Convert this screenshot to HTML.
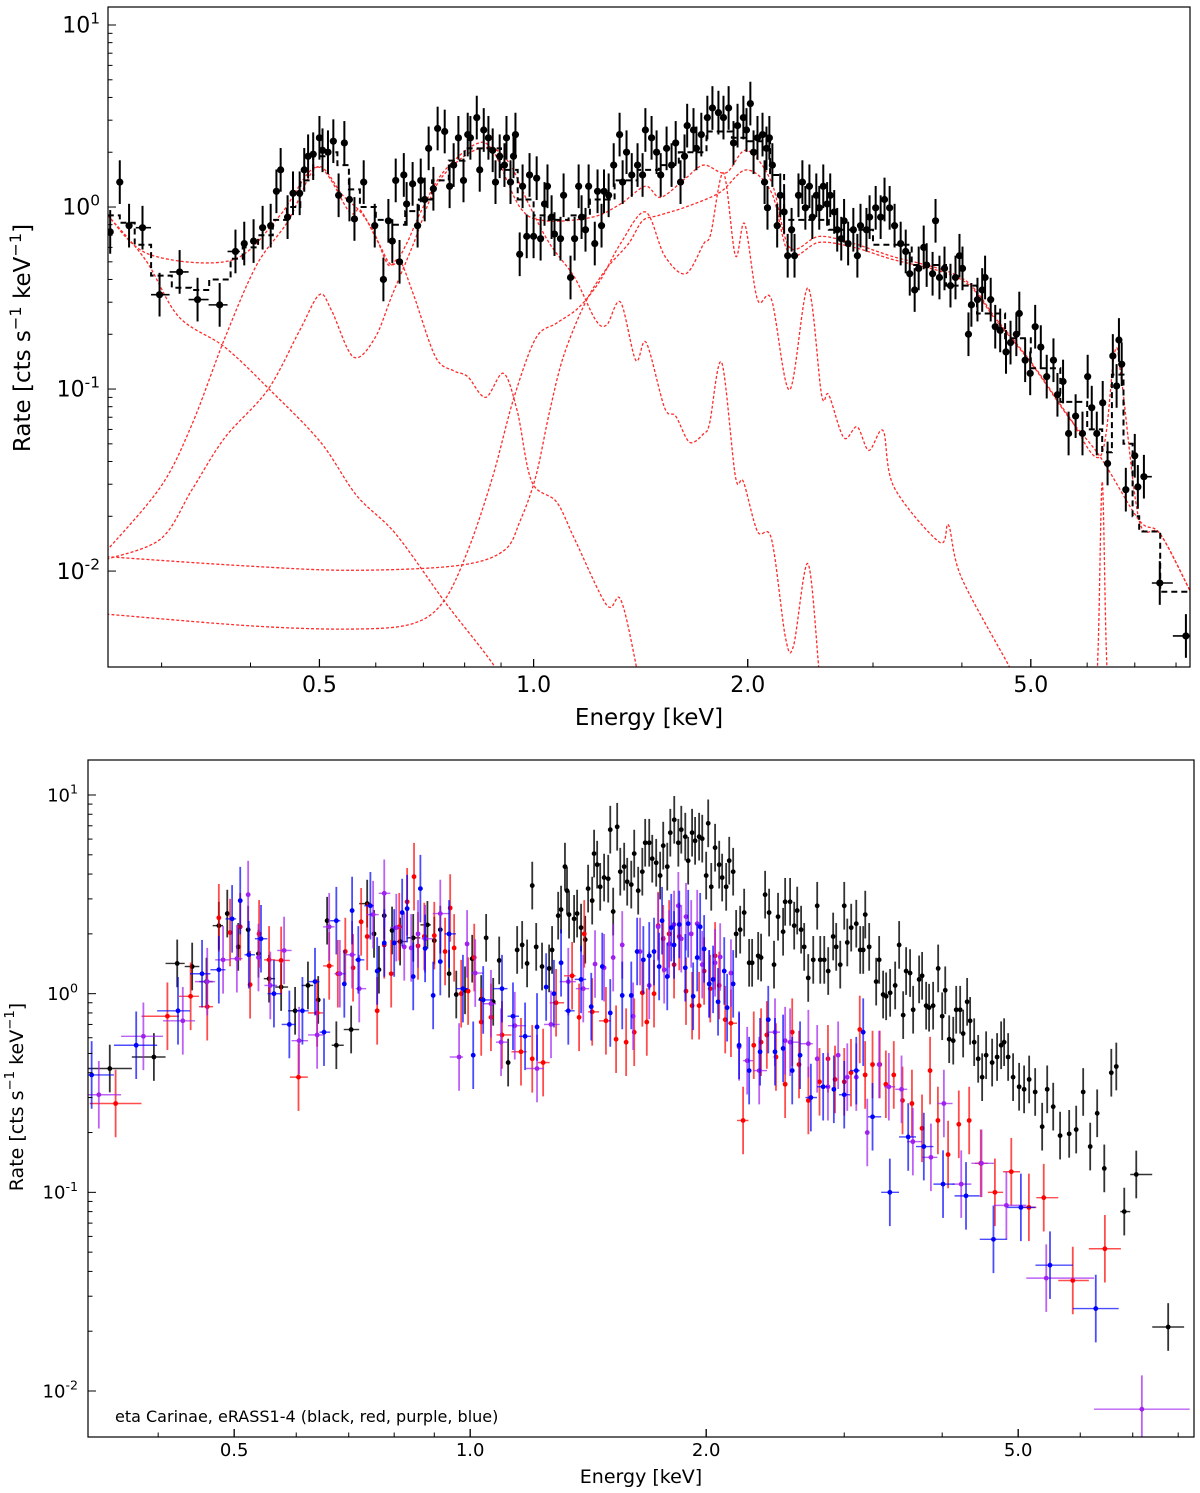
<!DOCTYPE html>
<html><head><meta charset="utf-8"><title>eta Carinae spectra</title>
<style>
html,body{margin:0;padding:0;background:#fff;}
svg{display:block;font-family:"DejaVu Sans","Liberation Sans",sans-serif;}
</style></head>
<body>
<svg id="fig" width="1200" height="1493" viewBox="0 0 1200 1493" xmlns="http://www.w3.org/2000/svg">
<defs>
<clipPath id="clipTop"><rect x="108" y="7" width="1082" height="660"/></clipPath>
<clipPath id="clipBot"><rect x="88" y="760" width="1106" height="677"/></clipPath>
</defs>
<g id="top"></g>
<g id="bot"></g>
</svg>
<script>
// ---------------- TOP PANEL DATA ----------------
const topE = [0.254,0.262,0.270,0.282,0.298,0.318,0.337,0.362,0.381,0.392,0.404,0.416,0.427,0.435,0.441,0.451,0.459,0.469,0.476,0.482,0.49,0.50,0.505,0.514,0.523,0.532,0.542,0.551,0.560,0.577,0.598,0.615,0.625,0.633,0.640,0.648,0.657,0.663,0.676,0.687,0.694,0.703,0.712,0.723,0.733,0.750,0.762,0.772,0.784,0.797,0.808,0.815,0.832,0.840,0.851,0.864,0.876,0.884,0.896,0.910,0.916,0.928,0.937,0.943,0.956,0.965,0.978,0.987,1.000,1.010,1.023,1.036,1.046,1.060,1.070,1.091,1.102,1.127,1.142,1.157,1.168,1.183,1.195,1.219,1.230,1.246,1.256,1.275,1.296,1.321,1.334,1.351,1.374,1.400,1.423,1.436,1.465,1.489,1.509,1.538,1.563,1.584,1.609,1.630,1.644,1.678,1.694,1.721,1.755,1.784,1.819,1.849,1.880,1.910,1.935,1.972,1.992,2.017,2.038,2.064,2.098,2.112,2.125,2.132,2.145,2.166,2.200,2.222,2.250,2.276,2.305,2.327,2.357,2.387,2.410,2.442,2.465,2.497,2.521,2.554,2.586,2.612,2.646,2.672,2.707,2.732,2.768,2.815,2.852,2.881,2.937,2.967,3.026,3.075,3.114,3.166,3.217,3.281,3.335,3.379,3.433,3.478,3.535,3.569,3.638,3.673,3.720,3.781,3.855,3.918,3.969,4.008,4.086,4.125,4.207,4.272,4.312,4.391,4.456,4.528,4.614,4.682,4.771,4.817,4.909,4.990,5.071,5.164,5.264,5.38,5.45,5.55,5.65,5.78,5.91,6.01,6.09,6.19,6.31,6.41,6.52,6.60,6.65,6.71,6.80,7.00,7.07,7.21,7.59,8.26];
const topRate = [0.73,1.37,0.79,0.77,0.33,0.44,0.31,0.29,0.57,0.63,0.65,0.77,0.79,1.22,1.6,0.88,1.19,1.19,1.6,1.9,1.95,2.4,2.05,2.0,2.3,1.16,2.25,1.1,0.86,1.37,0.79,0.40,0.84,0.65,1.4,0.50,1.5,1.04,1.34,0.79,1.4,1.1,2.1,1.26,2.7,2.6,1.3,1.7,2.4,1.4,2.5,2.4,3.1,1.6,2.65,2.4,2.05,1.37,1.9,1.7,2.4,1.37,1.9,2.5,0.55,1.3,0.69,1.5,0.69,1.44,0.67,1.04,1.3,0.88,0.71,0.67,1.16,0.41,0.67,1.3,0.88,0.75,1.3,0.63,1.22,0.79,1.22,1.16,1.7,2.5,1.37,2.0,1.5,1.7,1.5,2.65,2.4,2.0,1.5,2.1,1.7,2.25,1.37,1.9,2.8,2.65,2.1,2.5,3.1,3.5,3.3,3.1,3.5,2.25,2.8,3.1,2.65,3.7,2.0,2.4,2.5,1.37,2.1,0.99,2.4,1.7,0.79,1.16,0.94,0.54,0.75,0.54,1.16,1.37,0.99,1.3,0.88,1.16,0.99,1.3,1.04,1.16,0.94,0.75,0.67,0.84,0.63,0.75,0.54,0.79,0.75,0.88,0.99,0.88,1.1,0.99,0.79,0.63,0.57,0.43,0.35,0.46,0.6,0.48,0.43,0.84,0.41,0.46,0.37,0.41,0.54,0.46,0.2,0.29,0.31,0.35,0.41,0.31,0.22,0.21,0.16,0.18,0.2,0.26,0.144,0.122,0.22,0.17,0.117,0.144,0.093,0.11,0.057,0.071,0.057,0.117,0.079,0.057,0.084,0.039,0.152,0.104,0.186,0.137,0.028,0.043,0.029,0.033,0.0086,0.0044];
// fitted total model (black dashed step): bin edges and rates
const modelEdges = [0.252,0.262,0.275,0.29,0.31,0.33,0.35,0.375,0.39,0.41,0.43,0.45,0.47,0.49,0.51,0.53,0.55,0.57,0.60,0.63,0.66,0.69,0.72,0.76,0.80,0.85,0.90,0.95,1.0,1.05,1.12,1.2,1.3,1.4,1.5,1.6,1.75,1.9,2.0,2.15,2.25,2.4,2.6,3.0,3.4,3.8,4.2,4.6,5.0,5.5,6.0,6.3,6.5,6.75,6.95,7.1,7.6,8.37];
const modelRate = [0.9,0.82,0.62,0.42,0.36,0.35,0.40,0.52,0.6,0.7,0.85,1.0,1.4,1.9,2.0,1.7,1.25,1.0,0.85,0.8,0.95,1.1,1.4,1.8,2.1,2.1,1.6,1.1,0.9,0.85,0.9,1.1,1.4,1.6,1.7,2.0,2.6,2.4,2.3,1.5,0.85,0.85,0.75,0.62,0.48,0.37,0.26,0.19,0.13,0.085,0.06,0.045,0.12,0.05,0.02,0.0165,0.0077];
// model components (red dashed)
const compA_E = [0.252,0.285,0.317,0.368,0.427,0.502,0.564,0.64,0.752,0.876,0.95];
const compA_R = [0.90,0.51,0.25,0.17,0.098,0.051,0.026,0.016,0.0067,0.0031,0.0018];
const compB_E = [0.251,0.299,0.331,0.368,0.408,0.452,0.496,0.539,0.571,0.598,0.625,0.648,0.678,0.728,0.772,0.808,0.856,0.907,0.949,0.994,1.077,1.142,1.267,1.325,1.392,1.45];
const compB_R = [0.0129,0.029,0.064,0.19,0.48,0.84,1.66,1.16,0.94,0.71,0.48,0.51,0.33,0.15,0.126,0.117,0.09,0.122,0.075,0.031,0.024,0.015,0.0065,0.007,0.0031,0.0012];
const compC_E = [0.251,0.299,0.331,0.368,0.423,0.469,0.50,0.520,0.558,0.598,0.633,0.678,0.719,0.752,0.815,0.876,0.928,0.984,1.053,1.142,1.222,1.267,1.325,1.392,1.44,1.528,1.584,1.657,1.735,1.768,1.838,1.922,1.972,2.064,2.16,2.26,2.32,2.43,2.52,2.56];
const compC_R = [0.0116,0.015,0.028,0.054,0.099,0.21,0.33,0.27,0.15,0.19,0.33,0.63,1.16,1.54,2.0,2.1,1.7,1.04,0.63,0.41,0.24,0.225,0.30,0.144,0.18,0.079,0.071,0.051,0.057,0.065,0.14,0.033,0.031,0.0165,0.015,0.0043,0.0039,0.011,0.0028,0.0015];
const compD_E = [0.251,0.40,0.55,0.671,0.745,0.808,0.876,0.937,1.007,1.077,1.157,1.238,1.325,1.436,1.528,1.636,1.735,1.774,1.849,1.922,1.98,2.064,2.16,2.29,2.43,2.54,2.6,2.73,2.85,2.96,3.1,3.21,3.72,3.83,3.99,4.64,4.8];
const compD_R = [0.0058,0.0050,0.0048,0.0051,0.0067,0.0129,0.033,0.088,0.19,0.23,0.28,0.39,0.63,0.94,0.54,0.43,0.63,0.71,1.54,0.54,0.81,0.31,0.31,0.099,0.36,0.093,0.093,0.054,0.062,0.046,0.059,0.029,0.0144,0.0179,0.0093,0.0031,0.0024];
const compE_E = [0.251,0.39,0.551,0.779,0.907,0.958,1.007,1.053,1.102,1.183,1.267,1.36,1.423,1.5,1.636,1.826,1.992,2.16,2.29,2.52,2.82,3.17,3.99,4.48,5.03,5.65,6.27,7.1,7.6,8.37];
const compE_R = [0.012,0.0107,0.0101,0.0107,0.0129,0.019,0.033,0.075,0.152,0.30,0.46,0.63,0.84,0.9,1.0,1.2,1.6,1.2,0.55,0.64,0.6,0.52,0.40,0.235,0.135,0.07,0.042,0.019,0.016,0.0078];
const compT_E = [0.252,0.288,0.376,0.438,0.496,0.551,0.571,0.606,0.633,0.663,0.694,0.745,0.826,0.876,0.958,1.04,1.21,1.325,1.436,1.509,1.636,1.735,1.864,1.992,2.16,2.29,2.52,2.82,3.17,3.99,4.48,5.03,5.65,6.27,6.56,6.71,7.1,7.6,8.37];
const compT_R = [0.9,0.55,0.51,0.88,1.66,0.94,0.96,0.63,0.48,0.63,0.94,1.54,2.2,2.05,0.99,0.84,0.88,1.04,1.3,1.13,1.44,1.7,1.54,2.05,1.37,0.6,0.69,0.63,0.54,0.41,0.24,0.137,0.071,0.043,0.16,0.11,0.019,0.016,0.0078];
const compFe_E = [6.12,6.22,6.30,6.38,6.48];
const compFe_R = [0.0008,0.004,0.031,0.004,0.0008];
const topXTicks = [0.5,1.0,2.0,5.0];
const topXTickLabels = ["0.5","1.0","2.0","5.0"];
const topYDecades = [-2,-1,0,1];

// ---------------- BOTTOM PANEL DATA ----------------
const blackE = [0.347,0.395,0.423,0.442,0.461,0.478,0.49,0.506,0.521,0.537,0.554,0.574,0.598,0.621,0.64,0.657,0.675,0.705,0.739,0.754,0.765,0.777,0.795,0.814,0.846,0.882,0.90,0.916,0.94,0.96,0.985,1.006,1.033,1.048,1.07,1.089,1.118,1.148,1.165,1.182,1.2,1.214,1.235,1.261,1.272,1.295,1.306,1.321,1.329,1.337,1.357,1.369,1.385,1.402,1.414,1.431,1.439,1.452,1.465,1.482,1.50,1.509,1.522,1.54,1.554,1.572,1.586,1.605,1.619,1.638,1.658,1.672,1.692,1.707,1.727,1.747,1.763,1.784,1.80,1.821,1.843,1.859,1.881,1.897,1.919,1.936,1.959,1.977,2.00,2.012,2.03,2.053,2.078,2.096,2.121,2.14,2.165,2.184,2.21,2.236,2.269,2.289,2.33,2.35,2.378,2.406,2.441,2.47,2.507,2.522,2.559,2.59,2.613,2.643,2.667,2.699,2.739,2.771,2.796,2.829,2.862,2.904,2.93,2.965,3.0,3.027,3.062,3.108,3.144,3.172,3.191,3.228,3.295,3.324,3.363,3.393,3.433,3.484,3.525,3.567,3.598,3.64,3.673,3.738,3.771,3.816,3.849,3.895,3.953,4.0,4.036,4.083,4.132,4.168,4.217,4.254,4.304,4.342,4.394,4.446,4.498,4.551,4.632,4.70,4.756,4.798,4.855,4.926,5.014,5.088,5.164,5.256,5.365,5.445,5.542,5.655,5.808,5.929,6.052,6.178,6.306,6.439,6.573,6.67,6.828,7.073,7.768];
const blackRate = [0.42,0.48,1.42,1.37,1.15,2.2,2.53,1.72,2.10,1.59,1.19,1.08,0.82,1.10,0.93,2.33,0.55,0.66,2.84,2.0,1.32,2.47,2.08,1.83,1.91,2.22,1.85,2.10,1.26,0.99,1.04,1.50,0.94,1.91,0.91,1.47,0.45,1.66,1.76,1.42,3.5,1.72,1.37,1.34,1.66,2.47,2.65,4.36,3.30,2.50,2.38,2.53,2.15,1.87,3.38,2.94,5.07,4.46,3.45,3.84,3.79,6.69,2.59,6.92,4.11,4.36,3.66,3.54,5.07,3.30,4.11,5.75,5.75,4.78,4.56,3.93,5.56,4.36,6.46,7.5,5.75,6.69,6.17,4.67,6.46,5.88,6.17,6.03,3.93,7.2,3.45,5.43,4.46,3.84,3.45,4.67,4.11,2.0,2.10,2.56,1.43,1.43,1.55,1.52,3.15,2.56,1.40,2.44,2.05,2.90,2.90,2.20,2.62,2.10,1.72,1.20,1.48,2.77,1.48,1.48,1.30,1.94,1.72,1.40,2.77,1.81,2.15,2.25,1.66,1.66,2.50,1.72,1.15,1.48,0.99,0.97,1.01,1.10,1.76,0.78,1.30,1.27,0.83,1.18,1.23,0.87,0.85,0.87,1.34,0.77,1.04,0.59,0.58,0.83,0.83,0.63,0.91,0.73,0.57,0.47,0.38,0.49,0.45,0.48,0.55,0.57,0.48,0.38,0.34,0.33,0.37,0.32,0.214,0.33,0.27,0.193,0.197,0.207,0.32,0.17,0.25,0.132,0.40,0.43,0.08,0.123,0.021];
const redE = [0.353,0.411,0.44,0.462,0.478,0.494,0.509,0.524,0.538,0.554,0.574,0.604,0.638,0.661,0.678,0.693,0.709,0.726,0.739,0.761,0.777,0.793,0.812,0.831,0.848,0.858,0.874,0.90,0.929,0.943,0.954,0.974,0.994,1.012,1.033,1.063,1.098,1.161,1.2,1.239,1.287,1.349,1.377,1.398,1.431,1.49,1.535,1.581,1.619,1.658,1.68,1.716,1.737,1.763,1.794,1.82,1.848,1.885,1.919,1.959,1.988,2.024,2.053,2.078,2.115,2.151,2.229,2.30,2.35,2.39,2.455,2.522,2.575,2.627,2.70,2.79,2.86,2.92,3.0,3.06,3.14,3.19,3.26,3.33,3.39,3.47,3.56,3.66,3.77,3.86,3.95,4.07,4.2,4.33,4.48,4.67,4.9,5.16,5.39,5.87,6.45];
const redRate = [0.28,0.77,0.97,0.86,2.41,2.03,2.17,1.11,2.0,1.48,1.47,0.38,0.80,1.38,1.26,1.63,1.35,2.3,1.94,0.82,1.76,1.26,2.17,2.9,3.88,1.74,1.94,1.96,1.63,2.7,1.70,1.0,1.03,1.52,0.72,0.76,0.62,0.51,0.47,0.45,0.90,1.23,0.76,2.0,0.81,0.73,0.59,0.57,0.64,1.01,0.72,1.0,2.2,1.89,2.0,1.4,1.94,1.03,0.87,0.87,1.30,1.06,1.55,1.10,0.74,0.71,0.23,0.55,0.57,0.62,0.48,0.35,0.64,0.44,0.29,0.36,0.47,0.37,0.36,0.40,0.66,0.39,0.44,0.44,0.35,0.39,0.29,0.28,0.21,0.41,0.23,0.155,0.22,0.23,0.14,0.1,0.127,0.084,0.094,0.036,0.052];
const purpleE = [0.336,0.383,0.43,0.462,0.484,0.504,0.521,0.537,0.556,0.579,0.605,0.638,0.661,0.682,0.707,0.722,0.752,0.777,0.805,0.824,0.841,0.858,0.876,0.916,0.968,0.991,1.015,1.063,1.095,1.14,1.217,1.268,1.334,1.394,1.443,1.482,1.522,1.563,1.614,1.647,1.692,1.737,1.768,1.794,1.82,1.843,1.859,1.885,1.914,1.948,1.977,2.018,2.053,2.084,2.151,2.203,2.256,2.337,2.448,2.522,2.559,2.70,2.771,2.86,2.947,3.027,3.108,3.21,3.324,3.42,3.55,3.67,3.87,4.02,4.23,4.49,4.83,5.43,7.19];
const purpleRate = [0.31,0.61,0.73,1.15,1.48,1.5,3.15,1.52,1.1,1.65,0.58,0.62,2.17,1.26,1.57,1.06,2.5,3.2,2.15,1.72,1.7,2.0,1.89,2.53,0.48,1.78,1.27,0.89,0.57,0.69,0.42,0.70,1.15,1.06,1.41,1.35,1.52,1.76,0.77,1.63,1.1,2.17,1.32,1.78,2.23,2.77,1.89,2.44,2.0,2.25,1.4,1.12,1.43,1.53,1.27,0.54,0.46,0.41,0.64,0.58,0.57,0.56,0.47,0.34,0.49,0.38,0.38,0.2,0.44,0.34,0.33,0.18,0.15,0.28,0.11,0.14,0.086,0.037,0.0081];
const blueE = [0.329,0.375,0.424,0.455,0.478,0.497,0.509,0.522,0.541,0.562,0.588,0.611,0.634,0.651,0.675,0.691,0.707,0.72,0.746,0.761,0.777,0.8,0.819,0.831,0.846,0.864,0.876,0.897,0.916,0.94,0.979,1.009,1.039,1.098,1.134,1.175,1.217,1.25,1.279,1.306,1.334,1.385,1.427,1.474,1.509,1.563,1.605,1.633,1.663,1.692,1.716,1.742,1.757,1.784,1.805,1.82,1.848,1.881,1.897,1.925,1.948,1.965,1.988,2.018,2.041,2.071,2.109,2.127,2.165,2.203,2.269,2.343,2.4,2.448,2.507,2.575,2.635,2.72,2.82,2.91,3.0,3.108,3.172,3.26,3.43,3.62,3.79,4.01,4.29,4.65,5.04,5.49,6.28];
const blueRate = [0.39,0.55,0.82,1.26,1.32,2.38,2.94,1.57,1.89,1.0,0.70,0.82,1.15,0.64,2.33,1.12,2.62,1.48,2.77,1.3,1.8,1.8,2.56,2.68,1.22,3.38,1.69,0.98,1.45,2.0,1.06,0.49,0.93,1.06,0.77,0.61,0.68,1.08,1.0,1.43,0.82,1.18,0.86,1.37,0.80,0.98,0.98,1.63,1.48,1.55,1.63,1.37,2.33,1.22,2.15,1.76,2.23,1.35,2.25,0.97,1.52,2.17,1.68,1.12,1.18,0.91,1.3,0.85,1.12,0.55,0.41,0.51,0.74,0.51,0.53,0.41,0.49,0.30,0.34,0.33,0.31,0.41,0.64,0.24,0.10,0.19,0.17,0.11,0.096,0.058,0.084,0.043,0.026];
const botXTicks = [0.5,1.0,2.0,5.0];
const botXTickLabels = ["0.5","1.0","2.0","5.0"];
const botYDecades = [-2,-1,0,1];

// ---------------- helpers ----------------
const NS = "http://www.w3.org/2000/svg";
function mk(tag, attrs, parent){ const el=document.createElementNS(NS,tag); for(const k in attrs) el.setAttribute(k,attrs[k]); if(parent) parent.appendChild(el); return el; }
function makeAxes(cfg){ // log-log axes
  const lx0=Math.log10(cfg.xmin), lx1=Math.log10(cfg.xmax), ly0=Math.log10(cfg.ymin), ly1=Math.log10(cfg.ymax);
  return {
    x: e => cfg.left + (Math.log10(e)-lx0)/(lx1-lx0)*(cfg.right-cfg.left),
    y: r => cfg.bottom - (Math.log10(r)-ly0)/(ly1-ly0)*(cfg.bottom-cfg.top),
    cfg
  };
}
function smoothPath(pts){
  if(pts.length<2) return "";
  let d="M"+pts[0][0].toFixed(2)+","+pts[0][1].toFixed(2);
  for(let i=0;i<pts.length-1;i++){
    const p0=pts[Math.max(0,i-1)],p1=pts[i],p2=pts[i+1],p3=pts[Math.min(pts.length-1,i+2)];
    const t=0.16;
    const c1x=p1[0]+(p2[0]-p0[0])*t, c1y=p1[1]+(p2[1]-p0[1])*t;
    const c2x=p2[0]-(p3[0]-p1[0])*t, c2y=p2[1]-(p3[1]-p1[1])*t;
    d+=" C"+c1x.toFixed(2)+","+c1y.toFixed(2)+" "+c2x.toFixed(2)+","+c2y.toFixed(2)+" "+p2[0].toFixed(2)+","+p2[1].toFixed(2);
  }
  return d;
}
function drawFrame(g, ax, o){
  const c=ax.cfg;
  // ticks
  const tg=mk("g",{},g);
  
  
  // x minor+major
  for(let dec=-1; dec<=1; dec++){
    for(let m=1;m<=9;m++){
      const v=m*Math.pow(10,dec);
      if(v<c.xmin||v>c.xmax) continue;
      const X=ax.x(v);
      const major = o.xTicks.some(t=>Math.abs(t-v)<1e-9);
      const len = major?8:4.5;
      mk("line",{x1:X,x2:X,y1:c.bottom,y2:c.bottom-len,stroke:"#000","stroke-width":1},tg);
    }
  }
  o.xTicks.forEach((t,i)=>{
    const X=ax.x(t);
    mk("line",{x1:X,x2:X,y1:c.bottom,y2:c.bottom-8,stroke:"#000","stroke-width":1.2},tg);
    const tx=mk("text",{x:X,y:c.bottom+o.xLabelDy,"text-anchor":"middle","font-size":o.fs,fill:"#000"},g);
    
    
    tx.textContent=o.xLabels[i];
  });
  // y
  o.yDecades.forEach(dec=>{
    for(let m=1;m<=9;m++){
      const v=m*Math.pow(10,dec);
      if(v<c.ymin||v>c.ymax) continue;
      const Y=ax.y(v);
      const len=m===1?8:4.5;
      mk("line",{x1:c.left,x2:c.left+len,y1:Y,y2:Y,stroke:"#000","stroke-width":1},tg);
    }
    const v=Math.pow(10,dec);
    if(v<c.ymin||v>c.ymax) return;
    const Y=ax.y(v);
    const t=mk("text",{x:c.left-o.yLabelDx,y:Y+o.fs*0.35,"text-anchor":"end","font-size":o.fs,fill:"#000"},g);
    
    
    const a=mk("tspan",{},t); a.textContent="10";
    const b=mk("tspan",{dy:-o.fs*0.42,"font-size":o.fs*0.7},t); b.textContent=String(dec);
  });
  const fr=mk("rect",{x:c.left,y:c.top,width:c.right-c.left,height:c.bottom-c.top,fill:"none",stroke:"#000","stroke-width":1.2},g);
  
  
  // axis titles
  const xl=mk("text",{x:(c.left+c.right)/2+o.xTitleDx,y:o.xTitleY,"text-anchor":"middle","font-size":o.tfs,fill:"#000"},g);
  
  
  xl.textContent="Energy [keV]";
  const yl=mk("text",{x:0,y:0,"text-anchor":"middle","font-size":o.tfs,fill:"#000",transform:"translate("+o.yTitleX+","+o.yTitleY+") rotate(-90)"},g);
  
  
  yl.innerHTML='Rate [cts s<tspan dy="-9" font-size="'+(o.tfs*0.7)+'">−1</tspan><tspan dy="9"> keV</tspan><tspan dy="-9" font-size="'+(o.tfs*0.7)+'">−1</tspan><tspan dy="9">]</tspan>';
}
function drawSeries(g, ax, E, R, style, name){
  const sg=mk("g",{},g);
  
  
  const xs=E.map(ax.x);
  for(let i=0;i<E.length;i++){
    const X=xs[i], Y=ax.y(R[i]);
    const y1=ax.y(R[i]*Math.pow(10,style.err)), y2=ax.y(R[i]/Math.pow(10,style.err));
    mk("line",{x1:X,x2:X,y1:y1,y2:y2,stroke:style.color,"stroke-width":style.ew,"stroke-opacity":style.op},sg);
    const gl = i>0 ? (X-xs[i-1])/2 : (i+1<xs.length?(xs[i+1]-X)/2:6);
    const gr = i+1<xs.length ? (xs[i+1]-X)/2 : gl;
    const hl=Math.min(gl,style.maxw), hr=Math.min(gr,style.maxw);
    if(hl>style.minw||hr>style.minw){
      mk("line",{x1:X-hl,x2:X+hr,y1:Y,y2:Y,stroke:style.color,"stroke-width":style.ew*0.8,"stroke-opacity":style.op},sg);
    }
    const pt=mk("circle",{cx:X,cy:Y,r:style.r,fill:style.color},sg);
    
    
  }
}
function drawCurve(g, ax, E, R, name){
  const p=mk("path",{d:smoothPath(E.map((e,i)=>[ax.x(e),ax.y(R[i])])),fill:"none",stroke:"#ff2a2a","stroke-width":1.3,"stroke-dasharray":"3,2"},g);
  
  
}

// ---------------- TOP PANEL ----------------
const topG=document.getElementById("top");
const axT=makeAxes({left:108,right:1190,top:7,bottom:667,xmin:0.2522,xmax:8.37,ymin:Math.pow(10,-2.527),ymax:Math.pow(10,1.0989)});
const topPlot=mk("g",{"clip-path":"url(#clipTop)"},topG);


drawCurve(topPlot,axT,compA_E,compA_R,'model-component-soft-powerlaw');
drawCurve(topPlot,axT,compB_E,compB_R,'model-component-cool-plasma');
drawCurve(topPlot,axT,compC_E,compC_R,'model-component-warm-plasma');
drawCurve(topPlot,axT,compD_E,compD_R,'model-component-hot-plasma');
drawCurve(topPlot,axT,compE_E,compE_R,'model-component-hard-plasma');
drawCurve(topPlot,axT,compT_E,compT_R,'model-total-red');
drawCurve(topPlot,axT,compFe_E,compFe_R,'model-component-iron-line');
// black dashed step model
(function(){
  let d="";
  for(let i=0;i<modelRate.length;i++){
    const x0=axT.x(modelEdges[i]), x1=axT.x(modelEdges[i+1]), Y=axT.y(modelRate[i]);
    d+=(i===0?"M":"L")+x0.toFixed(1)+","+Y.toFixed(1)+" L"+x1.toFixed(1)+","+Y.toFixed(1)+" ";
  }
  const p=mk("path",{d:d,fill:"none",stroke:"#000","stroke-width":2,"stroke-dasharray":"6,4"},topPlot);
  
  
})();
drawSeries(topPlot,axT,topE,topRate,{color:"#000",err:0.12,ew:2,op:1,r:3.6,minw:7,maxw:40},'spectrum-data');
drawFrame(topG,axT,{prefix:'top',xTicks:topXTicks,xLabels:topXTickLabels,yDecades:topYDecades,fs:22,tfs:23,xLabelDy:25,yLabelDx:8,xTitleDx:0,xTitleY:725,yTitleX:30,yTitleY:338});

// ---------------- BOTTOM PANEL ----------------
const botG=document.getElementById("bot");
const axB=makeAxes({left:88,right:1194,top:760,bottom:1437,xmin:0.3255,xmax:8.38,ymin:Math.pow(10,-2.2315),ymax:Math.pow(10,1.1762)});
const botPlot=mk("g",{"clip-path":"url(#clipBot)"},botG);


drawSeries(botPlot,axB,blackE,blackRate,{color:"#000",err:0.12,ew:1.8,op:0.8,r:2.4,minw:6,maxw:30},'eRASS1-black-data');
drawSeries(botPlot,axB,redE,redRate,{color:"#ff0000",err:0.17,ew:1.8,op:0.7,r:2.4,minw:6,maxw:30},'eRASS2-red-data');
drawSeries(botPlot,axB,purpleE,purpleRate,{color:"#a020f0",err:0.17,ew:1.8,op:0.7,r:2.4,minw:6,maxw:55},'eRASS3-purple-data');
drawSeries(botPlot,axB,blueE,blueRate,{color:"#0000ff",err:0.17,ew:1.8,op:0.7,r:2.4,minw:6,maxw:30},'eRASS4-blue-data');
drawFrame(botG,axB,{prefix:'bottom',xTicks:botXTicks,xLabels:botXTickLabels,yDecades:botYDecades,fs:18,tfs:19,xLabelDy:19,yLabelDx:10,xTitleDx:0,xTitleY:1483,yTitleX:23,yTitleY:1097});
const ann=mk("text",{x:115,y:1422,"font-size":16,fill:"#000"},botG);


ann.textContent="eta Carinae, eRASS1-4 (black, red, purple, blue)";
</script>
</body></html>
